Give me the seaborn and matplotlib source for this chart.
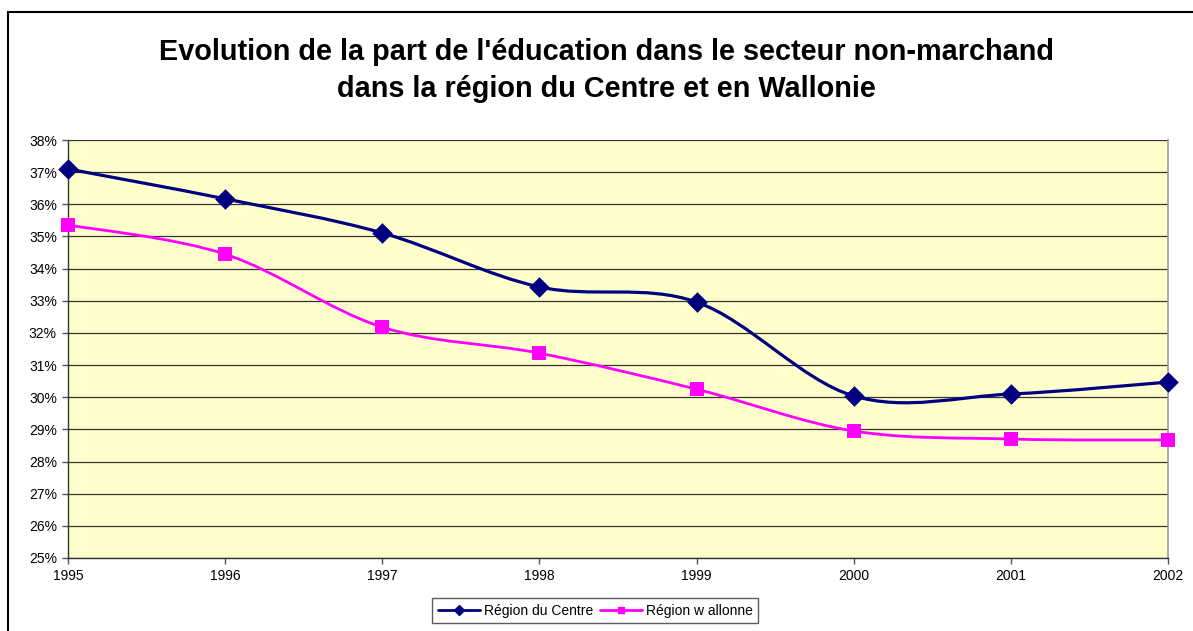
import numpy as np
import pandas as pd
import matplotlib
matplotlib.use('Agg')
import matplotlib.pyplot as plt
import seaborn as sns
from matplotlib.path import Path
from matplotlib.patches import PathPatch, Rectangle
from matplotlib.lines import Line2D
from matplotlib.ticker import FuncFormatter, MultipleLocator

# data (percent)
years = [1995, 1996, 1997, 1998, 1999, 2000, 2001, 2002]
centre = [37.10, 36.17, 35.11, 33.43, 32.96, 30.04, 30.10, 30.47]
wallonne = [35.36, 34.45, 32.18, 31.37, 30.25, 28.95, 28.70, 28.67]
series_names = ['Région du Centre', 'Région w allonne']

title = ("Evolution de la part de l'éducation dans le secteur non-marchand\n"
         "dans la région du Centre et en Wallonie")

sns.set_style('white')
plt.rcParams['font.family'] = ['Liberation Sans', 'DejaVu Sans']
plt.rcParams['text.color'] = 'black'
plt.rcParams['xtick.color'] = 'black'
plt.rcParams['ytick.color'] = 'black'

NAVY = '#000080'
MAGENTA = '#FF00FF'


def smooth_path(xs, ys):
    # Excel-style smoothed line: cubic Bezier through every point
    xs = np.asarray(xs, float)
    ys = np.asarray(ys, float)
    n = len(xs)
    verts = [(xs[0], ys[0])]
    codes = [Path.MOVETO]
    for i in range(n - 1):
        p0 = i - 1 if i > 0 else i
        p3 = i + 2 if i + 2 < n else i + 1
        c1 = (xs[i] + (xs[i + 1] - xs[p0]) / 6, ys[i] + (ys[i + 1] - ys[p0]) / 6)
        c2 = (xs[i + 1] - (xs[p3] - xs[i]) / 6, ys[i + 1] - (ys[p3] - ys[i]) / 6)
        verts += [c1, c2, (xs[i + 1], ys[i + 1])]
        codes += [Path.CURVE4] * 3
    return Path(verts, codes)


df = pd.DataFrame({'year': years * 2,
                   'value': centre + wallonne,
                   'serie': [series_names[0]] * len(years) + [series_names[1]] * len(years)})

fig = plt.figure(figsize=(11.93, 6.31), dpi=100)
ax = fig.add_axes([0.0570, 0.1157, 0.9220, 0.6624])
ax.set_facecolor('#FFFFCC')

# smoothed lines
ax.add_patch(PathPatch(smooth_path(years, centre), facecolor='none', edgecolor=NAVY,
                       lw=2.3, zorder=3))
ax.add_patch(PathPatch(smooth_path(years, wallonne), facecolor='none', edgecolor=MAGENTA,
                       lw=2.0, zorder=3))

# markers
sns.scatterplot(data=df[df.serie == series_names[0]], x='year', y='value', marker='D',
                s=110, color=NAVY, edgecolor=NAVY, linewidth=0, ax=ax, zorder=4, legend=False)
sns.scatterplot(data=df[df.serie == series_names[1]], x='year', y='value', marker='s',
                s=90, color=MAGENTA, edgecolor=MAGENTA, linewidth=0, ax=ax, zorder=4, legend=False)
for c in ax.collections:
    c.set_clip_on(False)

ax.set_xlim(1995, 2002)
ax.set_ylim(25, 38)
ax.yaxis.set_major_locator(MultipleLocator(1))
ax.yaxis.set_major_formatter(FuncFormatter(lambda v, p: f'{v:.0f}%'))
ax.set_xticks(years)
ax.set_xlabel('')
ax.set_ylabel('')
ax.grid(axis='y', color='#333333', lw=0.9)
ax.set_axisbelow(True)
ax.tick_params(axis='both', direction='out', length=4, width=1, color='#555555',
               labelsize=10, labelcolor='black', pad=4, left=True, bottom=True)

for side in ['left', 'bottom']:
    ax.spines[side].set_color('#333333')
    ax.spines[side].set_linewidth(1)
ax.spines['right'].set_color('#999999')
ax.spines['right'].set_linewidth(1.2)
ax.spines['top'].set_visible(False)

fig.text(0.508, 0.888, title, ha='center', va='center', fontsize=20.8,
         fontweight='bold', linespacing=1.42, color='black')

handles = [Line2D([0], [0], color=NAVY, lw=2, marker='D', markersize=5),
           Line2D([0], [0], color=MAGENTA, lw=2, marker='s', markersize=5)]
leg = fig.legend(handles, series_names, loc='center', bbox_to_anchor=(0.499, 0.032),
                 ncol=2, fontsize=10, frameon=True, fancybox=False, handlelength=3.0,
                 columnspacing=0.5, handletextpad=0.3, borderpad=0.4)
leg.get_frame().set_edgecolor('#333333')
leg.get_frame().set_linewidth(1)
for t in leg.get_texts():
    t.set_color('black')

# outer chart border (only left/top edge visible in the frame)
fig.patches.append(Rectangle((8 / 1193, -0.05), 1.2, (631 - 12) / 631 + 0.05,
                             transform=fig.transFigure, fill=False, edgecolor='black',
                             lw=1.5, zorder=0))

fig.savefig('out.png', dpi=100)
